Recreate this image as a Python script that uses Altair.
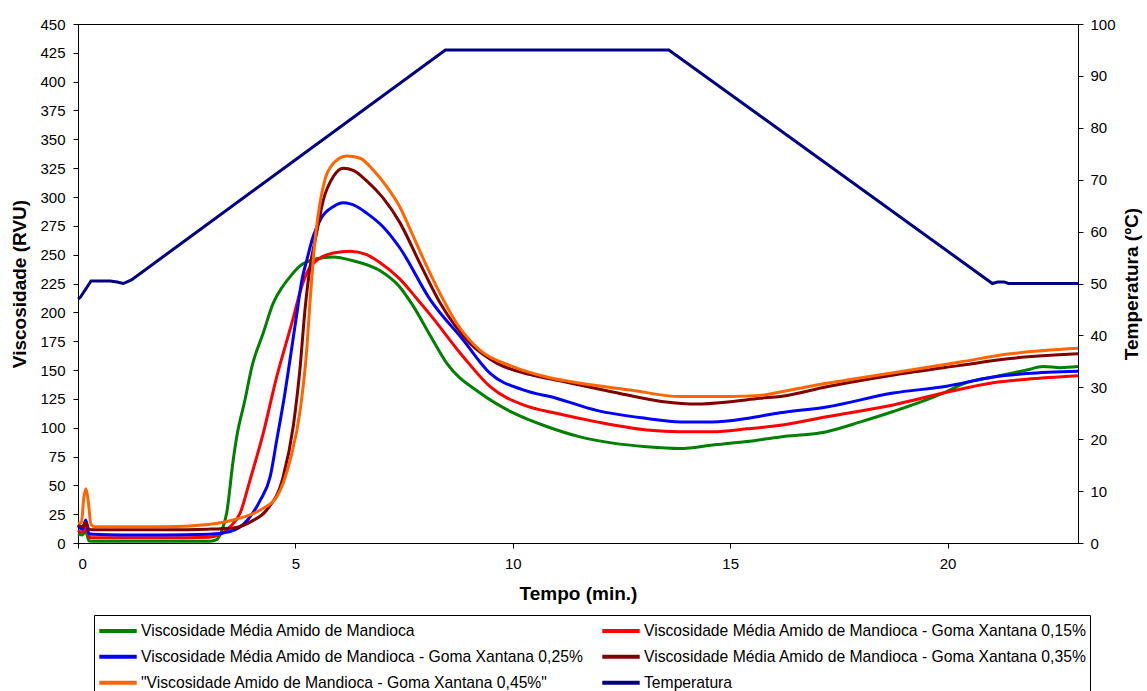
import altair as alt
import pandas as pd

# ---------------- data ----------------
SERIES = [
    "Viscosidade Média Amido de Mandioca",
    "Viscosidade Média Amido de Mandioca - Goma Xantana 0,15%",
    "Viscosidade Média Amido de Mandioca - Goma Xantana 0,25%",
    "Viscosidade Média Amido de Mandioca - Goma Xantana 0,35%",
    "\"Viscosidade Amido de Mandioca - Goma Xantana 0,45%\"",
    "Temperatura",
]
COLORS = ["#008000", "#FF0000", "#0000FF", "#800000", "#FF6600", "#000080"]
# the legend fills its two columns top to bottom, so list the entries so that
# they read row by row as in the reference
LEGEND_ORDER = [0, 2, 4, 1, 3, 5]

t_green = [0, 0.1, 0.18, 0.25, 0.35, 1.0, 2.0, 3.0, 3.19, 3.3, 3.42, 3.57, 3.65, 3.84, 4.0,
           4.26, 4.49, 4.7, 4.88, 5.1, 5.49, 5.87, 6.3, 6.95, 7.4, 7.7, 8.1, 8.48, 9.25, 10.0,
           10.78, 11.55, 12.3, 13.08, 13.85, 14.6, 15.38, 16.15, 17.22, 18.0, 18.75, 19.29,
           19.9, 20.44, 21.05, 21.82, 22.2, 22.6, 23.0]
v_green = [8, 7, 10, 2, 1.5, 1.5, 1.5, 1.5, 3, 10, 26, 72, 92, 124, 153,
           182, 208, 222, 231, 240, 246.5, 248, 245, 236, 222, 206, 180, 156, 130, 113,
           101, 92, 86.6, 83.5, 82, 85, 88, 92, 96.5, 105, 114, 121,
           130, 139, 144, 150, 153, 152, 153]

t_red = [0, 0.1, 0.18, 0.25, 0.35, 1, 2, 3, 3.3, 3.5, 3.73, 3.96, 4.26, 4.57, 4.8, 4.95,
         5.11, 5.3, 5.49, 5.87, 6.26, 6.64, 6.95, 7.4, 7.79, 8.1, 8.86, 9.48, 10.24, 11.0,
         11.93, 13.08, 13.85, 14.6, 15.38, 16.15, 17.22, 18.75, 19.9, 21.05, 21.82, 23.0]
v_red = [11, 9, 14, 5, 4.5, 4.5, 4.5, 5, 8, 14, 26, 55, 95, 144, 175, 195,
         218, 237, 245, 251.5, 253, 250, 243, 229, 212, 198, 161.5, 135.5, 119.7, 112.5,
         105, 98, 96.5, 96.5, 99, 102, 109.5, 119.7, 130, 139, 142, 145]

t_blue = [0, 0.1, 0.18, 0.25, 0.35, 1, 2, 3, 3.5, 3.9, 4.19, 4.42, 4.57, 4.76, 4.88, 5.03,
          5.15, 5.26, 5.41, 5.6, 5.87, 6.1, 6.4, 6.64, 7.02, 7.4, 8.1, 8.86, 9.48, 10.24,
          11.0, 11.93, 13.08, 13.85, 14.6, 15.38, 16.15, 17.22, 18.75, 19.98, 21.06, 21.82, 23.0]
v_blue = [15, 12, 20, 8, 7.5, 7, 7, 7.5, 10, 20, 37, 57.5, 89, 130, 160, 198,
          228, 245, 266, 282, 291.6, 295, 292, 286, 274, 256, 211, 176, 147, 132.7,
          125.5, 115, 108, 105, 105, 108, 113, 118, 130, 136, 144, 147, 149]

t_brown = [0, 0.1, 0.18, 0.25, 0.35, 1, 2, 3, 3.57, 4.0, 4.34, 4.72, 4.95, 5.11, 5.22, 5.34,
           5.49, 5.64, 5.87, 6.1, 6.33, 6.64, 7.02, 7.4, 7.87, 8.33, 9.02, 9.63, 10.4, 11.16,
           12.3, 13.47, 14.23, 15.0, 15.69, 16.15, 17.22, 18.76, 20.29, 21.44, 23.0]
v_brown = [16, 14, 18, 12, 11.5, 11.5, 11.5, 12, 13, 19, 28.6, 57.5, 101, 153, 202, 240,
           269, 297, 317.6, 325, 323, 314, 299, 278, 242, 208, 173, 156, 146, 140,
           131, 122.5, 120.5, 122.5, 125.5, 127, 135.5, 145.7, 154, 160, 164]

t_orange = [0, 0.08, 0.13, 0.18, 0.23, 0.3, 0.4, 1, 2, 3, 3.57, 4.19, 4.57, 4.88, 5.11, 5.26,
            5.34, 5.45, 5.53, 5.68, 5.87, 6.18, 6.49, 6.79, 7.1, 7.4, 7.64, 8.02, 8.4, 8.71,
            9.25, 10.0, 10.78, 11.55, 12.7, 13.85, 15.0, 15.69, 16.15, 17.22, 18.76, 20.29,
            21.44, 23.0]
v_orange = [17, 18, 38, 47, 38, 16, 14, 14, 14, 16, 20, 28.6, 40, 72, 115, 167,
            211, 262, 286, 315, 329, 335.6, 333.6, 323.4, 309, 291.6, 272, 240, 211, 190.5,
            167, 153, 144, 138.5, 132.7, 127, 127, 128, 131, 138.5, 147.7, 157,
            164, 168.8]

t_temp = [0, 0.05, 0.16, 0.3, 0.74, 0.9, 1.04, 1.23, 8.45, 13.59, 21.03, 21.15, 21.3, 21.4, 23.0]
v_temp = [47, 47.3, 48.7, 50.5, 50.5, 50.3, 50.0, 50.7, 95, 95, 50, 50.3, 50.3, 50, 50]

X_TICKS = [0, 5, 10, 15, 20]
Y_TICKS = list(range(0, 451, 25))
Y2_TICKS = list(range(0, 101, 10))

# ---------------- tables ----------------
visc_rows = []
for name, ts, vs in zip(SERIES[:5],
                        [t_green, t_red, t_blue, t_brown, t_orange],
                        [v_green, v_red, v_blue, v_brown, v_orange]):
    for i, (t, v) in enumerate(zip(ts, vs)):
        visc_rows.append({"serie": name, "t": t, "v": v, "i": i})
df_visc = pd.DataFrame(visc_rows)
df_temp = pd.DataFrame({"serie": SERIES[5], "t": t_temp, "T": v_temp,
                        "i": list(range(len(t_temp)))})

FONT = "Liberation Sans"

color_scale = alt.Scale(domain=[SERIES[k] for k in LEGEND_ORDER],
                        range=[COLORS[k] for k in LEGEND_ORDER])
legend = alt.Legend(
    orient="none", legendX=16, legendY=591, columns=2,
    symbolType="stroke", symbolStrokeWidth=4, symbolSize=1400,
    labelFont=FONT, labelFontSize=15.7, labelLimit=800, labelOffset=2,
    labelColor="black", clipHeight=25.5,
    strokeColor="black", fillColor="white", padding=3,
    rowPadding=0, columnPadding=16,
)

x_enc = alt.X("t:Q", scale=alt.Scale(domain=[0, 23], nice=False, zero=False),
              axis=alt.Axis(values=X_TICKS, title="Tempo (min.)", grid=False,
                            labelPadding=8, titlePadding=13, format="d"))

visc = alt.Chart(df_visc).mark_line(strokeWidth=3, interpolate="monotone").encode(
    x=x_enc,
    y=alt.Y("v:Q", scale=alt.Scale(domain=[0, 450], nice=False),
            axis=alt.Axis(values=Y_TICKS, title="Viscosidade (RVU)", grid=False,
                          labelPadding=8, titlePadding=10)),
    color=alt.Color("serie:N", scale=color_scale, title=None, legend=legend),
    order="i:Q",
)

temp = alt.Chart(df_temp).mark_line(strokeWidth=3).encode(
    x=x_enc,
    y=alt.Y("T:Q", scale=alt.Scale(domain=[0, 100], nice=False),
            axis=alt.Axis(orient="right", values=Y2_TICKS, title="Temperatura   (ºC)",
                          grid=False, labelPadding=7, titlePadding=26, titleAngle=270)),
    color=alt.Color("serie:N", scale=color_scale, title=None, legend=legend),
    order="i:Q",
)

chart = alt.layer(visc, temp).resolve_scale(y="independent").properties(
    width=1000, height=519,
    autosize=alt.AutoSizeParams(type="none"),
    padding={"left": 78, "top": 24, "right": 69, "bottom": 148},
    background="white",
).configure_view(
    stroke="black", strokeWidth=1
).configure_axis(
    labelFont=FONT, labelFontSize=15, labelColor="black",
    titleFont=FONT, titleFontSize=19, titleFontWeight="bold", titleColor="black",
    domainColor="black", tickColor="black", tickSize=5,
)

chart.save("out.html", embed_options={"renderer": "svg", "actions": False})
